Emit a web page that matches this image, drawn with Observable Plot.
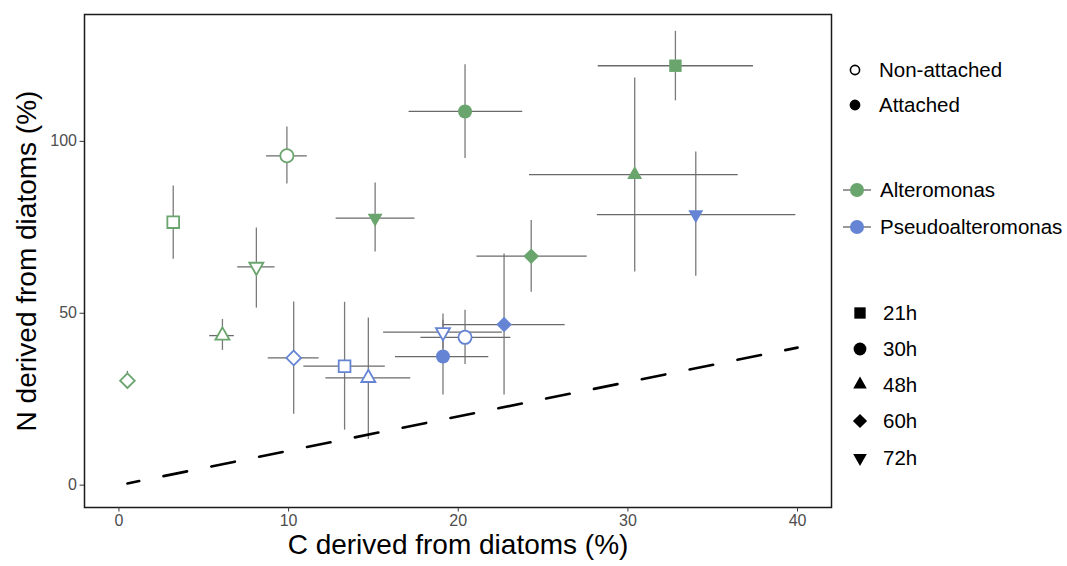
<!DOCTYPE html>
<html>
<head>
<meta charset="utf-8">
<script src="https://cdn.jsdelivr.net/npm/d3@7"></script>
<script src="https://cdn.jsdelivr.net/npm/@observablehq/plot@0.6"></script>
<style>
  html, body { margin: 0; padding: 0; background: #fff; }
  #chart { width: 1067px; height: 566px; }
</style>
</head>
<body>
<div id="chart"></div>
<script>
// ---- data ----
const genus = ["Alteromonas","Alteromonas","Alteromonas","Alteromonas","Alteromonas",
               "Alteromonas","Alteromonas","Alteromonas","Alteromonas","Alteromonas",
               "Pseudoalteromonas","Pseudoalteromonas","Pseudoalteromonas","Pseudoalteromonas","Pseudoalteromonas",
               "Pseudoalteromonas","Pseudoalteromonas","Pseudoalteromonas"];
const state = ["Non-attached","Non-attached","Non-attached","Non-attached","Non-attached",
               "Attached","Attached","Attached","Attached","Attached",
               "Non-attached","Non-attached","Non-attached","Non-attached","Non-attached",
               "Attached","Attached","Attached"];
const time = ["21h","30h","48h","60h","72h",
              "21h","30h","48h","60h","72h",
              "21h","30h","48h","60h","72h",
              "30h","60h","72h"];
const cMean = [3.2, 9.9, 6.1, 0.5, 8.1, 32.8, 20.4, 30.4, 24.3, 15.1, 13.3, 20.4, 14.7, 10.3, 19.1, 19.1, 22.7, 34.0];
const cLow  = [3.2, 8.7, 5.35, 0.5, 7.0, 28.25, 17.1, 24.2, 21.1, 12.8, 10.9, 17.8, 12.2, 8.8, 15.6, 16.3, 19.1, 28.2];
const cHigh = [3.2, 11.1, 6.8, 0.5, 9.2, 37.4, 23.8, 36.5, 27.6, 17.45, 15.7, 23.1, 17.2, 11.8, 22.6, 21.8, 26.3, 39.9];
const nMean = [76.5, 95.8, 43.5, 30.4, 63.5, 122, 108.7, 90.3, 66.6, 77.7, 34.6, 43, 31.2, 37, 44.5, 37.4, 46.7, 78.7];
const nLow  = [65.7, 87.6, 39.2, 27.9, 51.5, 111.8, 95, 62, 56.1, 67.8, 16, 35.1, 13.3, 20.6, 39.5, 26.2, 26.2, 60.8];
const nHigh = [87.0, 104.2, 48.2, 33.1, 74.8, 132, 122.3, 118.4, 77, 87.9, 53.2, 50.9, 48.6, 53.3, 49.8, 48, 67.2, 96.9];

// 1:1 reference line
const lineC = [0.5, 40];
const lineN = [0.5, 40];

const xTicks = [0, 10, 20, 30, 40];
const yTicks = [0, 50, 100];
const timeLevels = ["21h", "30h", "48h", "60h", "72h"];
const genusLevels = ["Alteromonas", "Pseudoalteromonas"];
const stateLevels = ["Non-attached", "Attached"];
const xTitle = "C derived from diatoms (%)";
const yTitle = "N derived from diatoms (%)";

// ---- styles ----
const genusColors = ["#6aa56e", "#6584d4"];
const FONT = "'Liberation Sans', Arial, Helvetica, sans-serif";

// custom triangles (up / down)
const triUp = {
  draw(ctx, size) {
    const s = Math.sqrt(size), h = 1.05 * s, hw = 0.6 * s;
    ctx.moveTo(0, -2 * h / 3); ctx.lineTo(hw, h / 3); ctx.lineTo(-hw, h / 3); ctx.closePath();
  }
};
const triDown = {
  draw(ctx, size) {
    const s = Math.sqrt(size), h = 1.05 * s, hw = 0.6 * s;
    ctx.moveTo(0, 2 * h / 3); ctx.lineTo(hw, -h / 3); ctx.lineTo(-hw, -h / 3); ctx.closePath();
  }
};
const symbolRange = [d3.symbolSquare, d3.symbolCircle, triUp, d3.symbolDiamond2, triDown];

const rows = cMean.map((c, i) => ({
  genus: genus[i], state: state[i], time: time[i],
  c, cl: cLow[i], ch: cHigh[i],
  n: nMean[i], nl: nLow[i], nh: nHigh[i]
}));
const refRows = lineC.map((c, i) => ({c, n: lineN[i]}));

const open = rows.filter(d => d.state === "Non-attached");
const filled = rows.filter(d => d.state === "Attached");

const plot = Plot.plot({
  width: 1067,
  height: 566,
  marginLeft: 84,
  marginRight: 236,
  marginTop: 14,
  marginBottom: 59,
  style: {fontFamily: FONT, background: "#fff"},
  x: {domain: [-2.03, 42.0], ticks: xTicks},
  y: {domain: [-6.5, 136.9], ticks: yTicks},
  color: {domain: genusLevels, range: genusColors},
  symbol: {domain: timeLevels, range: symbolRange},
  marks: [
    Plot.ruleX(rows, {x: "c", y1: "nl", y2: "nh", stroke: "#7a7a7a", strokeWidth: 1.3}),
    Plot.ruleY(rows, {y: "n", x1: "cl", x2: "ch", stroke: "#6a6a6a", strokeWidth: 1.3}),
    Plot.line(refRows, {x: "c", y: "n", stroke: "#000", strokeWidth: 2.6,
      strokeDasharray: "24,24.8", strokeDashoffset: 12}),
    Plot.dot(open, {x: "c", y: "n", symbol: "time", r: 6.6, fill: "#fff", stroke: "genus", strokeWidth: 1.8}),
    Plot.dot(filled, {x: "c", y: "n", symbol: "time", r: 7, fill: "genus", stroke: "none"}),
    Plot.frame({stroke: "#1a1a1a", strokeWidth: 1.5}),
    Plot.axisX({ticks: xTicks, tickSize: 4.5, tickPadding: 3, fontSize: 16, stroke: "#333", fill: "#4d4d4d", label: null}),
    Plot.axisY({ticks: yTicks, tickSize: 4.5, tickPadding: 3, fontSize: 16, stroke: "#333", fill: "#4d4d4d", label: null}),
    Plot.text([xTitle], {text: d => d, frameAnchor: "bottom", dy: 46, fontSize: 28, fill: "#000", textAnchor: "middle"}),
    Plot.text([yTitle], {text: d => d, frameAnchor: "left", dx: -57, rotate: -90, fontSize: 28, fill: "#000", textAnchor: "middle"})
  ]
});

document.getElementById("chart").appendChild(plot);

// ---- legend drawn inside the same SVG ----
const svg = d3.select(plot);
const lg = svg.append("g")
  .attr("font-family", FONT)
  .attr("font-size", 20.5)
  .attr("text-anchor", "start")
  .attr("fill", "#000");

// attachment state
const stateY = [70, 105];
stateLevels.forEach((s, i) => {
  lg.append("circle").attr("cx", 855).attr("cy", stateY[i]).attr("r", 4.6)
    .attr("fill", s === "Attached" ? "#000" : "#fff").attr("stroke", "#000").attr("stroke-width", 1.6);
  lg.append("text").attr("x", 879).attr("y", stateY[i]).attr("dy", "0.35em").attr("text-anchor", "start").text(s);
});

// genus
const genusY = [190, 227];
genusLevels.forEach((g, i) => {
  lg.append("line").attr("x1", 843).attr("x2", 871).attr("y1", genusY[i]).attr("y2", genusY[i])
    .attr("stroke", "#555").attr("stroke-width", 1.2);
  lg.append("circle").attr("cx", 857).attr("cy", genusY[i]).attr("r", 7).attr("fill", genusColors[i]);
  lg.append("text").attr("x", 880).attr("y", genusY[i]).attr("dy", "0.35em").attr("text-anchor", "start").text(g);
});

// time
const timeY = [313, 349, 384.5, 421, 458];
timeLevels.forEach((t, i) => {
  lg.append("path")
    .attr("transform", `translate(860,${timeY[i]})`)
    .attr("d", d3.symbol(symbolRange[i], Math.PI * 6.4 * 6.4)())
    .attr("fill", "#000");
  lg.append("text").attr("x", 883).attr("y", timeY[i]).attr("dy", "0.35em").attr("text-anchor", "start").text(t);
});
</script>
</body>
</html>
